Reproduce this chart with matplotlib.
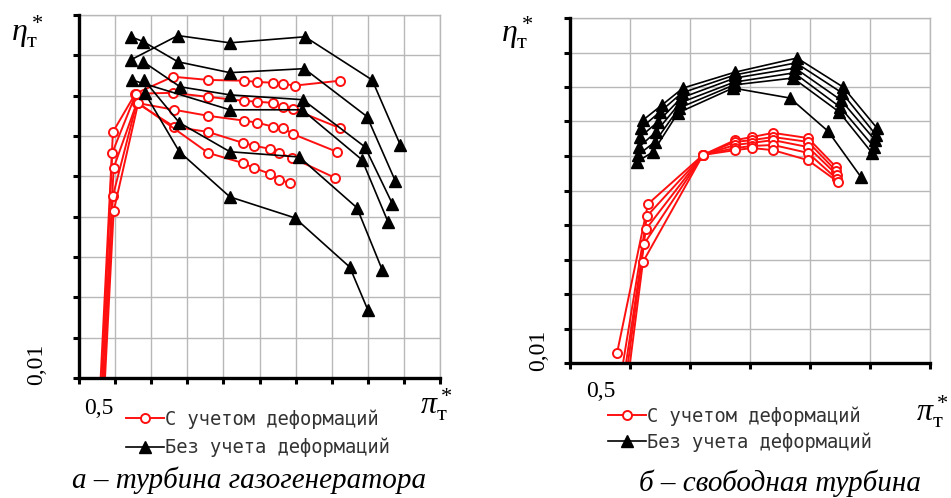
import matplotlib
matplotlib.use('Agg')
from matplotlib import pyplot as plt
import numpy as np

plt.rcParams['mathtext.fontset'] = 'custom'
plt.rcParams['mathtext.rm'] = 'Liberation Serif'
plt.rcParams['mathtext.it'] = 'Liberation Serif:italic'

# --- а: турбина газогенератора (x step 0.5, y step 0.01) ---
gg_red_x = [
    [0.30, 0.47, 0.78, 1.30, 1.79, 2.29, 2.47, 2.69, 2.83, 2.99, 3.61],
    [0.32, 0.46, 0.79, 1.30, 1.79, 2.29, 2.47, 2.69, 2.83, 2.96, 3.61],
    [0.33, 0.48, 0.80, 1.32, 1.79, 2.29, 2.47, 2.69, 2.83, 2.96, 3.57],
    [0.35, 0.47, 0.80, 1.32, 1.79, 2.27, 2.42, 2.65, 2.77, 2.95, 3.55],
    [0.36, 0.48, 0.82, 1.79, 2.27, 2.42, 2.65, 2.77, 2.92],
]
gg_red_y = [
    [0.0, 0.0610, 0.0705, 0.0747, 0.0739, 0.0737, 0.0734, 0.0732, 0.0729, 0.0725, 0.0737],
    [0.0, 0.0558, 0.0705, 0.0707, 0.0697, 0.0687, 0.0685, 0.0682, 0.0672, 0.0667, 0.0620],
    [0.0, 0.0521, 0.0682, 0.0665, 0.0650, 0.0638, 0.0633, 0.0623, 0.0620, 0.0605, 0.0561],
    [0.0, 0.0452, 0.0682, 0.0623, 0.0610, 0.0583, 0.0576, 0.0568, 0.0558, 0.0546, 0.0496],
    [0.0, 0.0414, 0.0682, 0.0558, 0.0533, 0.0521, 0.0506, 0.0491, 0.0484],
]
gg_blk_x = [
    [0.72, 1.37, 2.09, 3.13, 4.06, 4.45],
    [0.72, 0.89, 1.37, 2.09, 3.12, 3.99, 4.38],
    [0.89, 1.40, 2.09, 3.10, 3.96, 4.34],
    [0.73, 2.09, 3.09, 3.92, 4.28],
    [0.90, 1.39, 2.09, 3.05, 3.85, 4.20],
    [0.91, 1.39, 2.09, 2.99, 3.75, 4.00],
]
gg_blk_y = [
    [0.0789, 0.0849, 0.0831, 0.0846, 0.0739, 0.0578],
    [0.0846, 0.0834, 0.0784, 0.0757, 0.0767, 0.0648, 0.0489],
    [0.0784, 0.0722, 0.0702, 0.0690, 0.0573, 0.0432],
    [0.0739, 0.0665, 0.0665, 0.0541, 0.0387],
    [0.0739, 0.0633, 0.0561, 0.0548, 0.0422, 0.0268],
    [0.0707, 0.0561, 0.0449, 0.0397, 0.0275, 0.0169],
]

# --- б: свободная турбина ---
st_red_x = [
    [0.392, 0.650, 1.108, 1.375, 1.517, 1.692, 1.983, 2.217],
    [0.442, 0.642, 1.108, 1.375, 1.517, 1.692, 1.983, 2.217],
    [0.467, 0.633, 1.108, 1.375, 1.517, 1.692, 1.983, 2.225],
    [0.483, 0.617, 1.108, 1.375, 1.517, 1.692, 1.983, 2.225],
    [0.500, 0.608, 1.108, 1.375, 1.517, 1.692, 1.983, 2.233],
]
st_red_y = [
    [0.0029, 0.0461, 0.0603, 0.0646, 0.0655, 0.0667, 0.0652, 0.0568],
    [0.0, 0.0426, 0.0603, 0.0641, 0.0646, 0.0655, 0.0641, 0.0557],
    [0.0, 0.0388, 0.0603, 0.0632, 0.0638, 0.0646, 0.0626, 0.0545],
    [0.0, 0.0345, 0.0603, 0.0623, 0.0629, 0.0632, 0.0609, 0.0533],
    [0.0, 0.0293, 0.0603, 0.0617, 0.0623, 0.0617, 0.0588, 0.0525],
]
st_blk_x = [
    [0.608, 0.767, 0.942, 1.375, 1.892, 2.275, 2.558],
    [0.592, 0.750, 0.933, 1.375, 1.883, 2.267, 2.550],
    [0.583, 0.733, 0.925, 1.375, 1.875, 2.258, 2.542],
    [0.575, 0.717, 0.917, 1.367, 1.867, 2.250, 2.533],
    [0.567, 0.708, 0.908, 1.367, 1.858, 2.242, 2.517],
    [0.558, 0.692, 0.900, 1.358, 1.833, 2.150, 2.425],
]
st_blk_y = [
    [0.0704, 0.0748, 0.0797, 0.0843, 0.0884, 0.0800, 0.0681],
    [0.0681, 0.0728, 0.0783, 0.0835, 0.0870, 0.0783, 0.0661],
    [0.0655, 0.0699, 0.0768, 0.0826, 0.0855, 0.0762, 0.0646],
    [0.0626, 0.0670, 0.0754, 0.0814, 0.0841, 0.0742, 0.0626],
    [0.0603, 0.0641, 0.0739, 0.0806, 0.0826, 0.0728, 0.0609],
    [0.0583, 0.0612, 0.0725, 0.0797, 0.0768, 0.0672, 0.0539],
]

legend_labels = ['С учетом деформаций', 'Без учета деформаций']
captions = ['а – турбина газогенератора', 'б – свободная турбина']

RED = '#ff1010'
W, H = 951, 498
fig = plt.figure(figsize=(W / 100, H / 100), dpi=100)


def fx(px):
    return px / W


def fy(py):
    return 1 - py / H


def setup(ax, nx, ny):
    ax.set_xlim(0, nx * 0.5)
    ax.set_ylim(0, ny * 0.01)
    ax.set_xticks(np.arange(nx + 1) * 0.5)
    ax.set_yticks(np.arange(ny + 1) * 0.01)
    ax.grid(True, color='#b8b8b8', lw=1.0)
    ax.set_axisbelow(True)
    ax.tick_params(direction='out', length=4, width=2.2, color='black',
                   labelleft=False, labelbottom=False)
    for s in ('left', 'bottom'):
        ax.spines[s].set_linewidth(2.4)
        ax.spines[s].set_zorder(5)
    for s in ('top', 'right'):
        ax.spines[s].set_color('#b8b8b8')
        ax.spines[s].set_linewidth(1.0)


def draw(ax, rx, ry, bx, by, keep_first):
    red_h = blk_h = None
    for i, (xs, ys) in enumerate(zip(rx, ry)):
        # points sitting on the axis are hidden under it, except one on the right panel
        mk = None if (keep_first and i == 0) else slice(1, None)
        red_h, = ax.plot(xs, ys, color=RED, lw=1.4, marker='o', ms=6.5,
                         mfc='white', mec=RED, mew=1.4, markevery=mk, zorder=3)
    for xs, ys in zip(bx, by):
        blk_h, = ax.plot(xs, ys, color='black', lw=1.2, marker='^', ms=8,
                         zorder=4)
    return red_h, blk_h


ax1 = fig.add_axes([fx(79), fy(378), fx(440) - fx(79), fy(15) - fy(378)])
setup(ax1, 10, 9)
h1 = draw(ax1, gg_red_x, gg_red_y, gg_blk_x, gg_blk_y, False)

ax2 = fig.add_axes([fx(570), fy(363), fx(930) - fx(570), fy(18) - fy(363)])
setup(ax2, 6, 10)
h2 = draw(ax2, st_red_x, st_red_y, st_blk_x, st_blk_y, True)

serif = 'Liberation Serif'
for (ex, ey), (px, py), (hx, hy), (vx, vy), (lx, ly), sp, h, cap, (cx, cy) in [
        ((27, 32), (436, 405), (99, 408), (37, 364), (126, 409), 0.5, h1, captions[0], (249, 480)),
        ((517, 33), (932, 412), (601, 391), (539, 350), (608, 406), 0.35, h2, captions[1], (780, 483))]:
    fig.text(fx(ex), fy(ey), r'$\eta^*_\mathrm{т}$', fontsize=23,
             ha='center', va='center')
    fig.text(fx(px), fy(py), r'$\pi^*_\mathrm{т}$', fontsize=23,
             ha='center', va='center')
    fig.text(fx(hx), fy(hy), '0,5', family=serif, fontsize=17,
             ha='center', va='center')
    fig.text(fx(vx), fy(vy), '0,01', family=serif, fontsize=17,
             ha='center', va='center', rotation=90)
    fig.text(fx(cx), fy(cy), cap, family=serif, style='italic', fontsize=21,
             ha='center', va='center')
    fig.legend(list(h), legend_labels, loc='upper left',
               bbox_to_anchor=(fx(lx), fy(ly)), frameon=False,
               prop={'family': 'DejaVu Sans Mono', 'size': 13.5},
               handlelength=2.0, handletextpad=0.1, borderpad=0,
               borderaxespad=0, labelspacing=sp, labelcolor='#333333')

fig.savefig('out.png', dpi=100)
